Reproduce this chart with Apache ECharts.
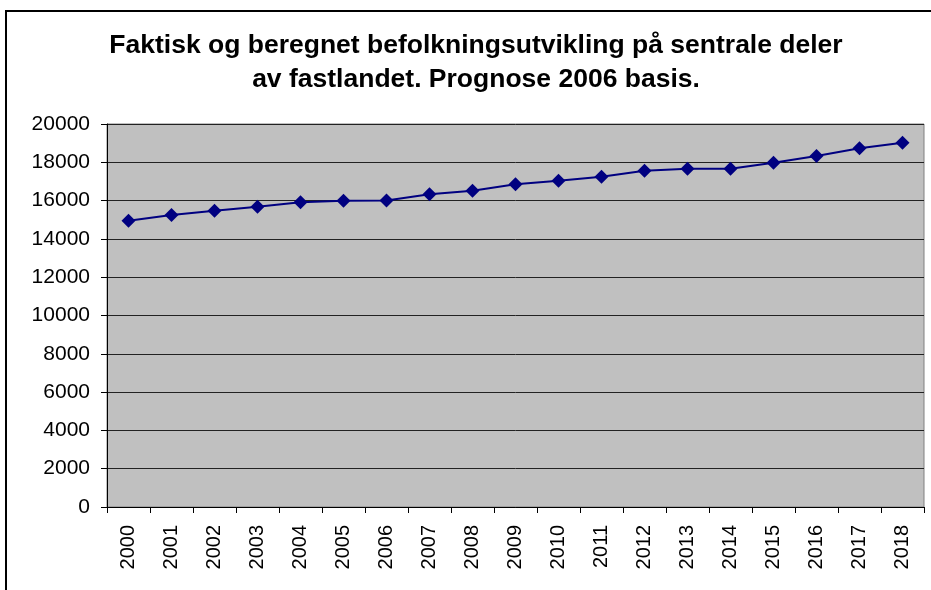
<!DOCTYPE html>
<html>
<head>
<meta charset="utf-8">
<script src="https://cdn.jsdelivr.net/npm/echarts@6/dist/echarts.min.js"></script>
<style>
html,body{margin:0;padding:0;background:#fff;}
#chart{width:931px;height:590px;}
</style>
</head>
<body>
<div id="chart"></div>
<script>
const titleLines = ['Faktisk og beregnet befolkningsutvikling på sentrale deler', 'av fastlandet. Prognose 2006 basis.'];
const years = ['2000','2001','2002','2003','2004','2005','2006','2007','2008','2009','2010','2011','2012','2013','2014','2015','2016','2017','2018'];
const population = [14950,15250,15470,15680,15910,15990,16000,16330,16520,16850,17040,17250,17560,17660,17660,17980,18330,18730,19020];
const yMin = 0, yMax = 20000, yStep = 2000;

const font = '"Liberation Sans", Arial, sans-serif';
const chart = echarts.init(document.getElementById('chart'), null, {renderer: 'canvas'});
chart.setOption({
  animation: false,
  backgroundColor: '#ffffff',
  graphic: [
    {type: 'rect', shape: {x: 6, y: 11, width: 960, height: 620}, style: {fill: 'none', stroke: '#000', lineWidth: 2}, z: 100},
    {type: 'text', x: 476, y: 29, style: {text: titleLines.join('\n'), textAlign: 'center', fontFamily: font, fontSize: 26.5, fontWeight: 'bold', lineHeight: 34, fill: '#000'}}
  ],
  grid: {left: 107, right: 7, top: 124, bottom: 83, show: true, backgroundColor: '#C0C0C0', borderColor: '#808080', borderWidth: 1},
  xAxis: {
    type: 'category', data: years, boundaryGap: true,
    axisLine: {lineStyle: {color: '#000', width: 1}},
    axisTick: {show: true, length: 6, lineStyle: {color: '#000'}},
    axisLabel: {rotate: 90, margin: 18, fontSize: 20, fontFamily: font, color: '#000', interval: 0},
    splitLine: {show: false}
  },
  yAxis: {
    type: 'value', min: yMin, max: yMax, interval: yStep,
    axisLine: {show: true, lineStyle: {color: '#000', width: 1}},
    axisTick: {show: true, length: 6, lineStyle: {color: '#000'}},
    axisLabel: {margin: 17, fontSize: 21, fontFamily: font, color: '#000', formatter: v => String(v)},
    splitLine: {show: true, lineStyle: {color: '#222', width: 1}}
  },
  series: [{
    type: 'line', data: population,
    symbol: 'diamond', symbolSize: 14, showAllSymbol: true,
    lineStyle: {color: '#000080', width: 2},
    itemStyle: {color: '#000080'}
  }]
});
</script>
</body>
</html>
